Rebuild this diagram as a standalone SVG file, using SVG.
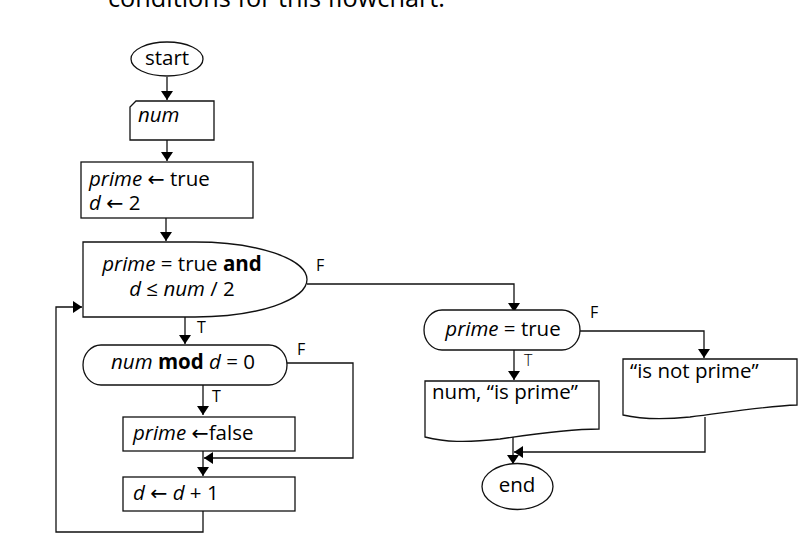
<svg xmlns="http://www.w3.org/2000/svg" width="808" height="544" viewBox="0 0 808 544">
<defs>
<marker id="ah" viewBox="0 0 9 12" markerUnits="userSpaceOnUse" markerWidth="9" markerHeight="12" refX="9" refY="6" orient="auto">
<path d="M0,0 L9,6 L0,12 Z" fill="#000"/>
</marker>
<style>
.s{fill:#fff;stroke:#111;stroke-width:1.3}
.c{fill:none;stroke:#111;stroke-width:1.3}
text{font-family:"Open Sans","Noto Sans","Liberation Sans",sans-serif;font-size:20.5px;fill:#000}
.i{font-style:italic}
.b{font-weight:bold}
.m{text-anchor:middle}
.ar{font-family:"DejaVu Sans",sans-serif;font-style:normal;font-weight:normal}
.lb{font-size:16px}
.lt{font-size:16px;font-weight:300}
</style>
</defs>
<rect width="808" height="544" fill="#fff"/>
<text x="108" y="7" style="font-size:25px" textLength="337" lengthAdjust="spacingAndGlyphs">conditions for this flowchart.</text>

<g id="connectors">
<path class="c" d="M167,77 V100" marker-end="url(#ah)"/>
<path class="c" d="M167,140 V161" marker-end="url(#ah)"/>
<path class="c" d="M166,218 V241" marker-end="url(#ah)"/>
<path class="c" d="M307,284 H514 V312" marker-end="url(#ah)"/>
<path class="c" d="M185,317 V344" marker-end="url(#ah)"/>
<path class="c" d="M203,385 V415" marker-end="url(#ah)"/>
<path class="c" d="M287,363 H353 V458 H204" marker-end="url(#ah)"/>
<path class="c" d="M203,451 V476" marker-end="url(#ah)"/>
<path class="c" d="M203,511 V532 H56 V307 H82" marker-end="url(#ah)"/>
<path class="c" d="M580,331 H704 V358" marker-end="url(#ah)"/>
<path class="c" d="M514,350 V380" marker-end="url(#ah)"/>
<path class="c" d="M705,417 V452 H514" marker-end="url(#ah)"/>
<path class="c" d="M513,437 V464" marker-end="url(#ah)"/>
</g>

<g id="start">
<ellipse class="s" cx="167" cy="59" rx="36" ry="17"/>
<text class="m" x="167" y="65">start</text>
</g>

<g id="input-num">
<path class="s" d="M136,101 H214 V140 H130 V107 Z"/>
<text class="i" x="138" y="122">num</text>
</g>

<g id="init">
<rect class="s" x="81" y="162" width="172" height="56"/>
<text><tspan x="89" y="186"><tspan class="i">prime</tspan> <tspan class="ar">←</tspan> true</tspan><tspan x="89" y="210"><tspan class="i">d</tspan> <tspan class="ar">←</tspan> 2</tspan></text>
</g>

<g id="loop-cond">
<path class="s" d="M83,242 H195 A112,37.5 0 0 1 195,317 H83 Z"/>
<text class="m"><tspan x="182" y="271"><tspan class="i">prime</tspan> = true <tspan class="b">and</tspan></tspan><tspan x="182" y="296"><tspan class="i">d</tspan> ≤ <tspan class="i">num</tspan> / 2</tspan></text>
<text class="lb" x="316" y="271">F</text>
<text class="lb" x="197" y="333">T</text>
</g>

<g id="mod-cond">
<rect class="s" x="83" y="345" width="204" height="40" rx="18" ry="20"/>
<text class="m" x="183" y="369"><tspan class="i">num</tspan> <tspan class="b">mod</tspan> <tspan class="i">d</tspan> = 0</text>
<text class="lb" x="297" y="355">F</text>
<text class="lb" x="212" y="402">T</text>
</g>

<g id="set-false">
<rect class="s" x="123" y="417" width="172" height="34"/>
<text x="133" y="440"><tspan class="i">prime</tspan> <tspan class="ar">←</tspan>false</text>
</g>

<g id="inc-d">
<rect class="s" x="123" y="477" width="172" height="34"/>
<text x="133" y="500"><tspan class="i">d</tspan> <tspan class="ar">←</tspan> <tspan class="i">d</tspan> + 1</text>
</g>

<g id="prime-cond">
<rect class="s" x="424" y="310" width="156" height="40" rx="18" ry="20"/>
<text class="m" x="503" y="336"><tspan class="i">prime</tspan> = true</text>
<text class="lb" x="590" y="318">F</text>
<text class="lt" x="524" y="366">T</text>
</g>

<g id="out-prime">
<path class="s" d="M425,381 H599 V429 C570,429 540,433 500,439 C465,443 445,442 425,437 Z"/>
<text x="432" y="399">num, “is prime”</text>
</g>

<g id="out-not-prime">
<path class="s" d="M623,359 H797 V405 C765,406 730,412 690,417 C660,420 640,419 623,415 Z"/>
<text x="630" y="378">“is not prime”</text>
</g>

<g id="end">
<ellipse class="s" cx="517.5" cy="486.5" rx="35.5" ry="23"/>
<text class="m" x="517" y="492">end</text>
</g>
</svg>
